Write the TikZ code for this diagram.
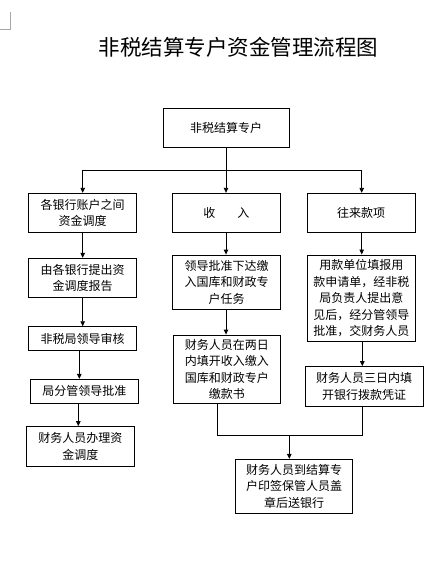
\documentclass[tikz,border=0pt]{standalone}
\usepackage{fontspec}
\newfontfamily\cjk{Noto Sans CJK SC}
\usetikzlibrary{arrows.meta}
\begin{document}
\begin{tikzpicture}[x=1pt,y=-1pt,
  box/.style={draw,line width=0.9pt,inner sep=0pt,align=center,
    font=\cjk\fontsize{12}{16.5}\selectfont},
  arr/.style={-{Triangle[length=5pt,width=4.5pt]},line width=0.9pt},
  ln/.style={line width=0.9pt},
  cornermark/.style={draw=gray!70,line width=0.6pt}]
\useasboundingbox[fill=white] (0,0) rectangle (440,577);
% page corner mark
\draw[cornermark] (0,29.3) -- (10.7,29.3) -- (10.7,11.7);
% title
\node[font=\cjk\fontsize{21.5}{24}\selectfont] (title) at (238.5,47) {非税结算专户资金管理流程图};
% boxes
\node[box,minimum width=126pt,minimum height=39pt] (top) at (226,127.7) {非税结算专户};
\node[box,minimum width=108.4pt,minimum height=39pt] (L1) at (82.5,212.8) {各银行账户之间\\资金调度};
\node[box,minimum width=108.2pt,minimum height=39pt] (M1) at (226.4,212.8) {收\hspace{22pt}入};
\node[box,minimum width=107.7pt,minimum height=39pt] (R1) at (361.2,212.8) {往来款项};
\node[box,minimum width=108.4pt,minimum height=39pt] (L2) at (82.5,277.8) {由各银行提出资\\金调度报告};
\node[box,minimum width=107.7pt,minimum height=54.3pt] (M2) at (226.7,282.2) {领导批准下达缴\\入国库和财政专\\户任务};
\node[box,minimum width=108pt,minimum height=86.7pt] (R2) at (361.3,298.3) {用款单位填报用\\款申请单，经非税\\局负责人提出意\\见后，经分管领导\\批准，交财务人员};
\node[box,minimum width=108.4pt,minimum height=24pt] (L3) at (82.5,338.7) {非税局领导审核};
\node[box,minimum width=108pt,minimum height=24pt] (L4) at (84.3,391.3) {局分管领导批准};
\node[box,minimum width=108pt,minimum height=39.3pt] (L5) at (80.3,446.3) {财务人员办理资\\金调度};
\node[box,minimum width=107.7pt,minimum height=68.3pt] (M3) at (226.8,369.2) {财务人员在两日\\内填开收入缴入\\国库和财政专户\\缴款书};
\node[box,minimum width=118.3pt,minimum height=39.3pt] (R3) at (364.2,386.3) {财务人员三日内填\\开银行拨款凭证};
\node[box,minimum width=116.6pt,minimum height=54pt] (B) at (294,486.3) {财务人员到结算专\\户印签保管人员盖\\章后送银行};
% helper coordinates
\coordinate (split) at (226,170.3);
\coordinate (lsplit) at (82.7,170.3);
\coordinate (rsplit) at (361.7,170.3);
\coordinate (xl34) at (79.3,0);
\coordinate (xl45) at (78.3,0);
\coordinate (xr) at (362.3,0);
\coordinate (xm) at (217.3,0);
\coordinate (xb) at (289.3,0);
\coordinate (merge) at (289.3,435.3);
% connectors
\draw[ln] (top.south -| split) -- (split);
\draw[ln] (lsplit) -- (rsplit);
\draw[arr] (lsplit) -- (lsplit |- L1.north);
\draw[arr] (split) -- (split |- M1.north);
\draw[arr] (rsplit) -- (rsplit |- R1.north);
\draw[arr] (lsplit |- L1.south) -- (lsplit |- L2.north);
\draw[arr] (lsplit |- L2.south) -- (lsplit |- L3.north);
\draw[arr] (xl34 |- L3.south) -- (xl34 |- L4.north);
\draw[arr] (xl45 |- L4.south) -- (xl45 |- L5.north);
\draw[arr] (split |- M1.south) -- (split |- M2.north);
\draw[arr] (split |- M2.south) -- (split |- M3.north);
\draw[arr] (rsplit |- R1.south) -- (rsplit |- R2.north);
\draw[arr] (xr |- R2.south) -- (xr |- R3.north);
\draw[ln] (xm |- M3.south) -- (xm |- merge) -- (xr |- merge) -- (xr |- R3.south);
\draw[arr] (merge) -- (xb |- B.north);
\end{tikzpicture}
\end{document}
